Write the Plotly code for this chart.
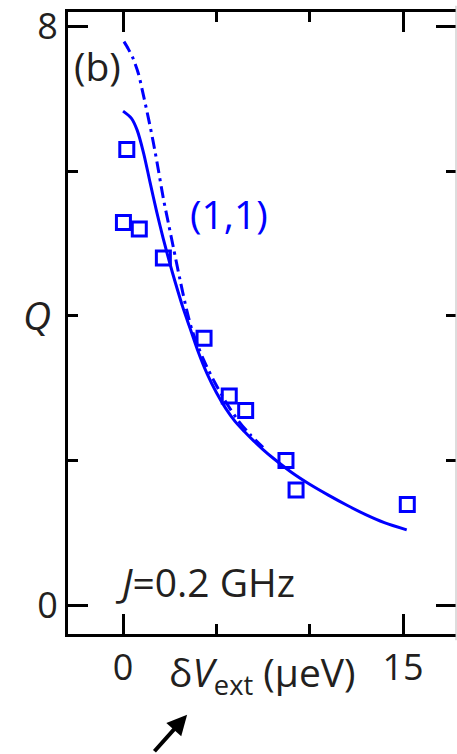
import plotly.graph_objects as go

# data
sq_x = [0.2, 0.02, 0.87, 2.16, 4.34, 5.69, 6.57, 8.73, 9.27, 15.23]
sq_y = [6.30, 5.29, 5.20, 4.80, 3.69, 2.89, 2.69, 2.00, 1.59, 1.39]

solid_x = [0.0, 0.45, 0.75, 1.1, 1.45, 1.8, 2.15, 2.5, 2.8, 3.2, 3.6, 4.0, 4.5, 5.0,
           5.5, 6.0, 6.5, 7.0, 7.5, 8.0, 9.0, 10.0, 11.0, 12.0, 13.0, 14.0, 15.2]
solid_y = [6.83, 6.73, 6.57, 6.25, 5.84, 5.44, 5.07, 4.73, 4.46, 4.12, 3.82, 3.52, 3.20, 2.94,
           2.72, 2.54, 2.40, 2.27, 2.15, 2.04, 1.84, 1.67, 1.52, 1.38, 1.25, 1.14, 1.04]

dash_x = [0.05, 0.28, 0.55, 0.82, 1.09, 1.36, 1.62, 1.89, 2.16, 2.43, 2.70, 3.05, 3.41,
          3.7, 4.3, 4.93, 5.6, 6.2, 6.8, 7.5]
dash_y = [7.79, 7.69, 7.55, 7.35, 7.05, 6.73, 6.40, 6.02, 5.62, 5.28, 4.94, 4.50, 4.08,
          3.80, 3.40, 3.07, 2.77, 2.54, 2.36, 2.18]

x_major = [0, 15]
y_major = [0, 8]

BLUE = "#0000ff"
INK = "#231f20"
FONT = "Open Sans"
TICK_SIZE = 36
TEXT_SIZE = 39

fig = go.Figure()
fig.add_trace(go.Scatter(x=dash_x, y=dash_y, mode="lines", line_shape="spline",
                         line=dict(color=BLUE, width=3, dash="12px,5px,3px,5px",
                                   smoothing=0.8),
                         showlegend=False))
fig.add_trace(go.Scatter(x=solid_x, y=solid_y, mode="lines", line_shape="spline",
                         line=dict(color=BLUE, width=3, smoothing=0.8), showlegend=False))
fig.add_trace(go.Scatter(x=sq_x, y=sq_y, mode="markers",
                         marker=dict(symbol="square-open", size=14, color=BLUE,
                                     line=dict(width=3, color=BLUE)),
                         showlegend=False))
fig.add_trace(go.Scatter(x=[None], y=[None], yaxis="y2", showlegend=False))

fig.update_layout(
    width=457, height=754,
    margin=dict(l=68, r=1, t=10, b=120),
    plot_bgcolor="white", paper_bgcolor="white",
    font=dict(family=FONT, color=INK, size=TICK_SIZE),
    xaxis=dict(range=[-2.95, 17.84], tickvals=x_major, ticks="inside", ticklen=20,
               tickwidth=3, tickcolor="black", showline=True, linewidth=3,
               linecolor="black", mirror="ticks", showgrid=False, zeroline=False,
               tickfont=dict(size=TICK_SIZE, color=INK), ticklabeloverflow="allow",
               minor=dict(dtick=5, tick0=0, ticks="inside", ticklen=10, tickwidth=3,
                          tickcolor="black", showgrid=False)),
    yaxis=dict(range=[-0.40, 8.2], tickvals=y_major, ticks="inside", ticklen=20,
               tickwidth=3, tickcolor="black", showline=True, linewidth=3,
               linecolor="black", showgrid=False, zeroline=False,
               tickfont=dict(size=TICK_SIZE, color=INK), ticklabeloverflow="allow",
               minor=dict(dtick=2, tick0=0, ticks="inside", ticklen=10, tickwidth=3,
                          tickcolor="black", showgrid=False)),
    yaxis2=dict(range=[-0.40, 8.2], overlaying="y", side="right", tickvals=y_major,
                ticks="inside", ticklen=20, tickwidth=3, tickcolor="black",
                showticklabels=False, showline=False, showgrid=False, zeroline=False,
                minor=dict(dtick=2, tick0=0, ticks="inside", ticklen=10, tickwidth=3,
                           tickcolor="black", showgrid=False)),
)

fig.add_shape(type="line", xref="paper", yref="paper", x0=1, x1=1, y0=-0.01, y1=1.01,
              line=dict(color="#bbbbbb", width=1))

fig.add_annotation(text="(b)", xref="paper", yref="paper", x=0.075, y=0.914,
                   xanchor="center", yanchor="middle", showarrow=False,
                   font=dict(size=TEXT_SIZE, color=INK))
fig.add_annotation(text="(1,1)", xref="paper", yref="paper", x=0.415, y=0.676,
                   xanchor="center", yanchor="middle", showarrow=False,
                   font=dict(size=TEXT_SIZE, color=BLUE))
fig.add_annotation(text="<i>J</i>=0.2 GHz", xref="paper", yref="paper", x=0.353, y=0.085,
                   xanchor="center", yanchor="middle", showarrow=False,
                   font=dict(size=TEXT_SIZE, color=INK))
fig.add_annotation(text="<i>Q</i>", xref="paper", yref="paper", x=-0.079, y=0.513,
                   xanchor="center", yanchor="middle", showarrow=False,
                   font=dict(size=TEXT_SIZE, color=INK))
fig.add_annotation(text="δ<i>V</i><sub>ext</sub> (μeV)", xref="paper", yref="paper",
                   x=0.5, y=-0.064, xanchor="center", yanchor="middle", showarrow=False,
                   font=dict(size=TEXT_SIZE, color=INK))
fig.add_annotation(text="", xref="paper", yref="paper", x=0.307, y=-0.1298,
                   ax=-34, ay=38, showarrow=True, arrowhead=2, arrowsize=1,
                   arrowwidth=4, arrowcolor="black")

fig.write_html("out.html")
